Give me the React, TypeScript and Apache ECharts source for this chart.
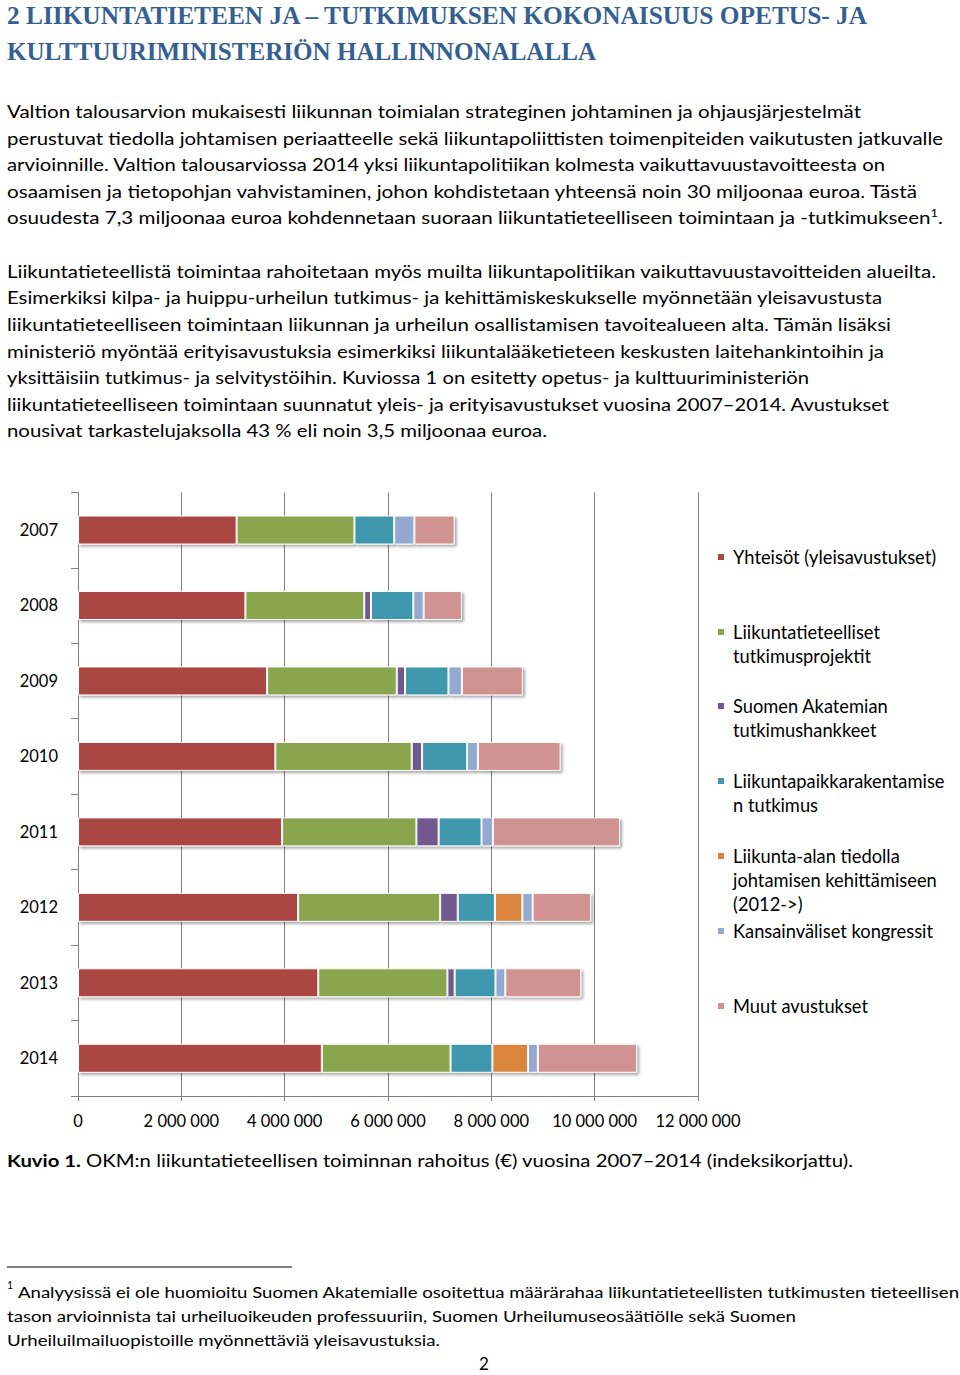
import React, { useEffect, useRef } from "react";
import * as echarts from "echarts";

// ---------- DATA ----------
const years = ["2007", "2008", "2009", "2010", "2011", "2012", "2013", "2014"];

const seriesNames = [
  "Yhteisöt (yleisavustukset)",
  "Liikuntatieteelliset tutkimusprojektit",
  "Suomen Akatemian tutkimushankkeet",
  "Liikuntapaikkarakentamisen tutkimus",
  "Liikunta-alan tiedolla johtamisen kehittämiseen (2012->)",
  "Kansainväliset kongressit",
  "Muut avustukset",
];

const legendLines = [
  ["Yhteisöt (yleisavustukset)"],
  ["Liikuntatieteelliset", "tutkimusprojektit"],
  ["Suomen Akatemian", "tutkimushankkeet"],
  ["Liikuntapaikkarakentamise", "n tutkimus"],
  ["Liikunta-alan tiedolla", "johtamisen kehittämiseen", "(2012->)"],
  ["Kansainväliset kongressit"],
  ["Muut avustukset"],
];

const yhteisot = [3070000, 3240000, 3660000, 3820000, 3950000, 4260000, 4650000, 4720000];
const tutkimusprojektit = [2280000, 2300000, 2510000, 2640000, 2600000, 2750000, 2500000, 2490000];
const akatemia = [null, 130000, 160000, 200000, 430000, 340000, 140000, null];
const liikuntapaikka = [770000, 820000, 840000, 870000, 830000, 720000, 790000, 810000];
const tiedollaJohtaminen = [null, null, null, null, null, 530000, null, 690000];
const kongressit = [390000, 200000, 260000, 210000, 220000, 200000, 190000, 190000];
const muut = [780000, 740000, 1180000, 1600000, 2460000, 1130000, 1470000, 1920000];

const seriesValues = [yhteisot, tutkimusprojektit, akatemia, liikuntapaikka, tiedollaJohtaminen, kongressit, muut];
const colors = ["#AA4643", "#89A54E", "#71588F", "#4198AF", "#DB843D", "#93A9CF", "#D19392"];

const axisMin = 0;
const axisMax = 12000000;
const axisStep = 2000000;

// ---------- TEXT ----------
const heading = [
  "2 LIIKUNTATIETEEN JA – TUTKIMUKSEN KOKONAISUUS OPETUS- JA",
  "KULTTUURIMINISTERIÖN HALLINNONALALLA",
];
const para1 = [
  "Valtion talousarvion mukaisesti liikunnan toimialan strateginen johtaminen ja ohjausjärjestelmät",
  "perustuvat tiedolla johtamisen periaatteelle sekä liikuntapoliittisten toimenpiteiden vaikutusten jatkuvalle",
  "arvioinnille. Valtion talousarviossa 2014 yksi liikuntapolitiikan kolmesta vaikuttavuustavoitteesta on",
  "osaamisen ja tietopohjan vahvistaminen, johon kohdistetaan yhteensä noin 30 miljoonaa euroa. Tästä",
  "osuudesta 7,3 miljoonaa euroa kohdennetaan suoraan liikuntatieteelliseen toimintaan ja -tutkimukseen",
];
const para2 = [
  "Liikuntatieteellistä toimintaa rahoitetaan myös muilta liikuntapolitiikan vaikuttavuustavoitteiden alueilta.",
  "Esimerkiksi kilpa- ja huippu-urheilun tutkimus- ja kehittämiskeskukselle myönnetään yleisavustusta",
  "liikuntatieteelliseen toimintaan liikunnan ja urheilun osallistamisen tavoitealueen alta. Tämän lisäksi",
  "ministeriö myöntää erityisavustuksia esimerkiksi liikuntalääketieteen keskusten laitehankintoihin ja",
  "yksittäisiin tutkimus- ja selvitystöihin. Kuviossa 1 on esitetty opetus- ja kulttuuriministeriön",
  "liikuntatieteelliseen toimintaan suunnatut yleis- ja erityisavustukset vuosina 2007–2014. Avustukset",
  "nousivat tarkastelujaksolla 43 % eli noin 3,5 miljoonaa euroa.",
];
const footnote = [
  "Analyysissä ei ole huomioitu Suomen Akatemialle osoitettua määrärahaa liikuntatieteellisten tutkimusten tieteellisen",
  "tason arvioinnista tai urheiluoikeuden professuuriin, Suomen Urheilumuseosäätiölle sekä Suomen",
  "Urheiluilmailuopistoille myönnettäviä yleisavustuksia.",
];

// layout of prose lines (baseline y, right end x)
const headingLayout = [
  { y: 24, end: 867 },
  { y: 60, end: 596 },
];
const para1Layout = [
  { y: 118, end: 861 },
  { y: 144.6, end: 943 },
  { y: 171.2, end: 885 },
  { y: 197.8, end: 917 },
  { y: 224.4, end: 943 },
];
const para2Layout = [
  { y: 277.7, end: 936 },
  { y: 304.3, end: 882 },
  { y: 330.9, end: 891 },
  { y: 357.5, end: 884 },
  { y: 384.1, end: 809 },
  { y: 410.7, end: 889 },
  { y: 437.3, end: 547 },
];
const footLayout = [
  { x: 18, y: 1297.5, end: 959 },
  { x: 7, y: 1321.5, end: 796 },
  { x: 7, y: 1345.5, end: 440 },
];

const legendIconY = [557, 632, 706, 781, 856, 931, 1006];

const fmtNum = (v: number) => String(v).replace(/\B(?=(\d{3})+(?!\d))/g, " ");

function Chart() {
  const ref = useRef<HTMLDivElement>(null);
  useEffect(() => {
    if (!ref.current) return;
    const chart = echarts.init(ref.current, undefined, { renderer: "svg" });
    const font = "Lato, 'Open Sans', sans-serif";
    const lh = 24;
    const sq = 8;
    const legends = seriesNames.map((name, i) => {
      const n = legendLines[i].length;
      // icon: square at the top + an invisible dot so that the square lines up with the first text line
      const H = n === 1 ? sq : lh * n - lh + sq;
      const iconPath =
        n === 1
          ? "rect"
          : `path://M0 0h${sq}v${sq}h-${sq}z M${sq / 2} ${H - 0.01}h0.01v0.01h-0.01z`;
      return {
        show: true,
        orient: "vertical" as const,
        left: 716,
        top: legendIconY[i] - lh / 2,
        padding: 0,
        itemWidth: sq,
        itemHeight: H,
        icon: iconPath,
        selectedMode: false,
        data: [name],
        formatter: (nm: string) => legendLines[seriesNames.indexOf(nm)].join("\n"),
        textStyle: {
          fontFamily: font,
          fontSize: 18.3,
          color: "#000",
          lineHeight: lh,
          padding: [0, 0, 0, 3],
        },
      };
    });
    chart.setOption({
      animation: false,
      backgroundColor: "transparent",
      color: colors,
      textStyle: { fontFamily: font },
      legend: legends,
      grid: { left: 78, top: 492.3, width: 620, height: 603.7, containLabel: false },
      xAxis: {
        type: "value",
        min: axisMin,
        max: axisMax,
        interval: axisStep,
        axisLine: { show: true, lineStyle: { color: "#808080", width: 1 } },
        axisTick: { show: true, length: 5, lineStyle: { color: "#808080" } },
        splitLine: { show: true, lineStyle: { color: "#808080", width: 1 } },
        axisLabel: {
          formatter: (v: number) => fmtNum(v),
          fontFamily: font,
          fontSize: 16.5,
          color: "#000",
          margin: 16,
        },
      },
      yAxis: {
        type: "category",
        data: years,
        inverse: true,
        axisLine: { show: true, lineStyle: { color: "#808080", width: 1 } },
        axisTick: { show: true, length: 7, lineStyle: { color: "#808080" } },
        axisLabel: {
          fontFamily: font,
          fontSize: 16.5,
          color: "#000",
          margin: 20,
        },
      },
      series: seriesNames.map((name, i) => ({
        name,
        type: "bar",
        stack: "total",
        barWidth: 29,
        data: seriesValues[i],
        itemStyle: {
          color: colors[i],
          borderColor: "#ffffff",
          borderWidth: 1,
          shadowColor: "rgba(0,0,0,0.35)",
          shadowBlur: 3,
          shadowOffsetX: 2,
          shadowOffsetY: 2,
        },
        emphasis: { disabled: true },
      })),
    });
    return () => chart.dispose();
  }, []);
  return <div ref={ref} style={{ position: "absolute", left: 0, top: 0, width: 960, height: 1375 }} />;
}

function Prose() {
  const body = "Lato, 'Open Sans', sans-serif";
  const serif = "'Liberation Serif', 'DejaVu Serif', serif";
  const fs = 17.5;
  return (
    <svg
      width={960}
      height={1375}
      style={{ position: "absolute", left: 0, top: 0, pointerEvents: "none" }}
    >
      {heading.map((t, i) => (
        <text
          key={"h" + i}
          x={7}
          y={headingLayout[i].y}
          textLength={headingLayout[i].end - 7}
          lengthAdjust="spacingAndGlyphs"
          fontFamily={serif}
          fontWeight="bold"
          fontSize={25}
          fill="#365F91"
        >
          {t}
        </text>
      ))}
      {para1.map((t, i) => (
        <text
          key={"p1" + i}
          x={7}
          y={para1Layout[i].y}
          textLength={para1Layout[i].end - 7}
          lengthAdjust="spacingAndGlyphs"
          fontFamily={body}
          fontSize={fs}
          fill="#000"
        >
          {t}
          {i === para1.length - 1 ? (
            <>
              <tspan dy={-7} fontSize={11}>1</tspan>
              <tspan dy={7}>.</tspan>
            </>
          ) : null}
        </text>
      ))}
      {para2.map((t, i) => (
        <text
          key={"p2" + i}
          x={7}
          y={para2Layout[i].y}
          textLength={para2Layout[i].end - 7}
          lengthAdjust="spacingAndGlyphs"
          fontFamily={body}
          fontSize={fs}
          fill="#000"
        >
          {t}
        </text>
      ))}
      <text
        x={7}
        y={1167}
        textLength={853 - 7}
        lengthAdjust="spacingAndGlyphs"
        fontFamily={body}
        fontSize={fs}
        fill="#000"
      >
        <tspan fontWeight="bold">Kuvio 1.</tspan>
        <tspan> OKM:n liikuntatieteellisen toiminnan rahoitus (€) vuosina 2007–2014 (indeksikorjattu).</tspan>
      </text>
      <line x1={7} y1={1267} x2={292} y2={1267} stroke="#000" strokeWidth={1} />
      <text x={7} y={1289} fontFamily={body} fontSize={10.5} fill="#000">1</text>
      {footnote.map((t, i) => (
        <text
          key={"f" + i}
          x={footLayout[i].x}
          y={footLayout[i].y}
          textLength={footLayout[i].end - footLayout[i].x}
          lengthAdjust="spacingAndGlyphs"
          fontFamily={body}
          fontSize={15.5}
          fill="#000"
        >
          {t}
        </text>
      ))}
      <text x={484} y={1370} textAnchor="middle" fontFamily={body} fontSize={17} fill="#000">
        2
      </text>
    </svg>
  );
}

export default function App() {
  return (
    <div
      style={{
        position: "absolute",
        left: 0,
        top: 0,
        width: 960,
        height: 1375,
        background: "#fff",
        overflow: "hidden",
      }}
    >
      <Chart />
      <Prose />
    </div>
  );
}
